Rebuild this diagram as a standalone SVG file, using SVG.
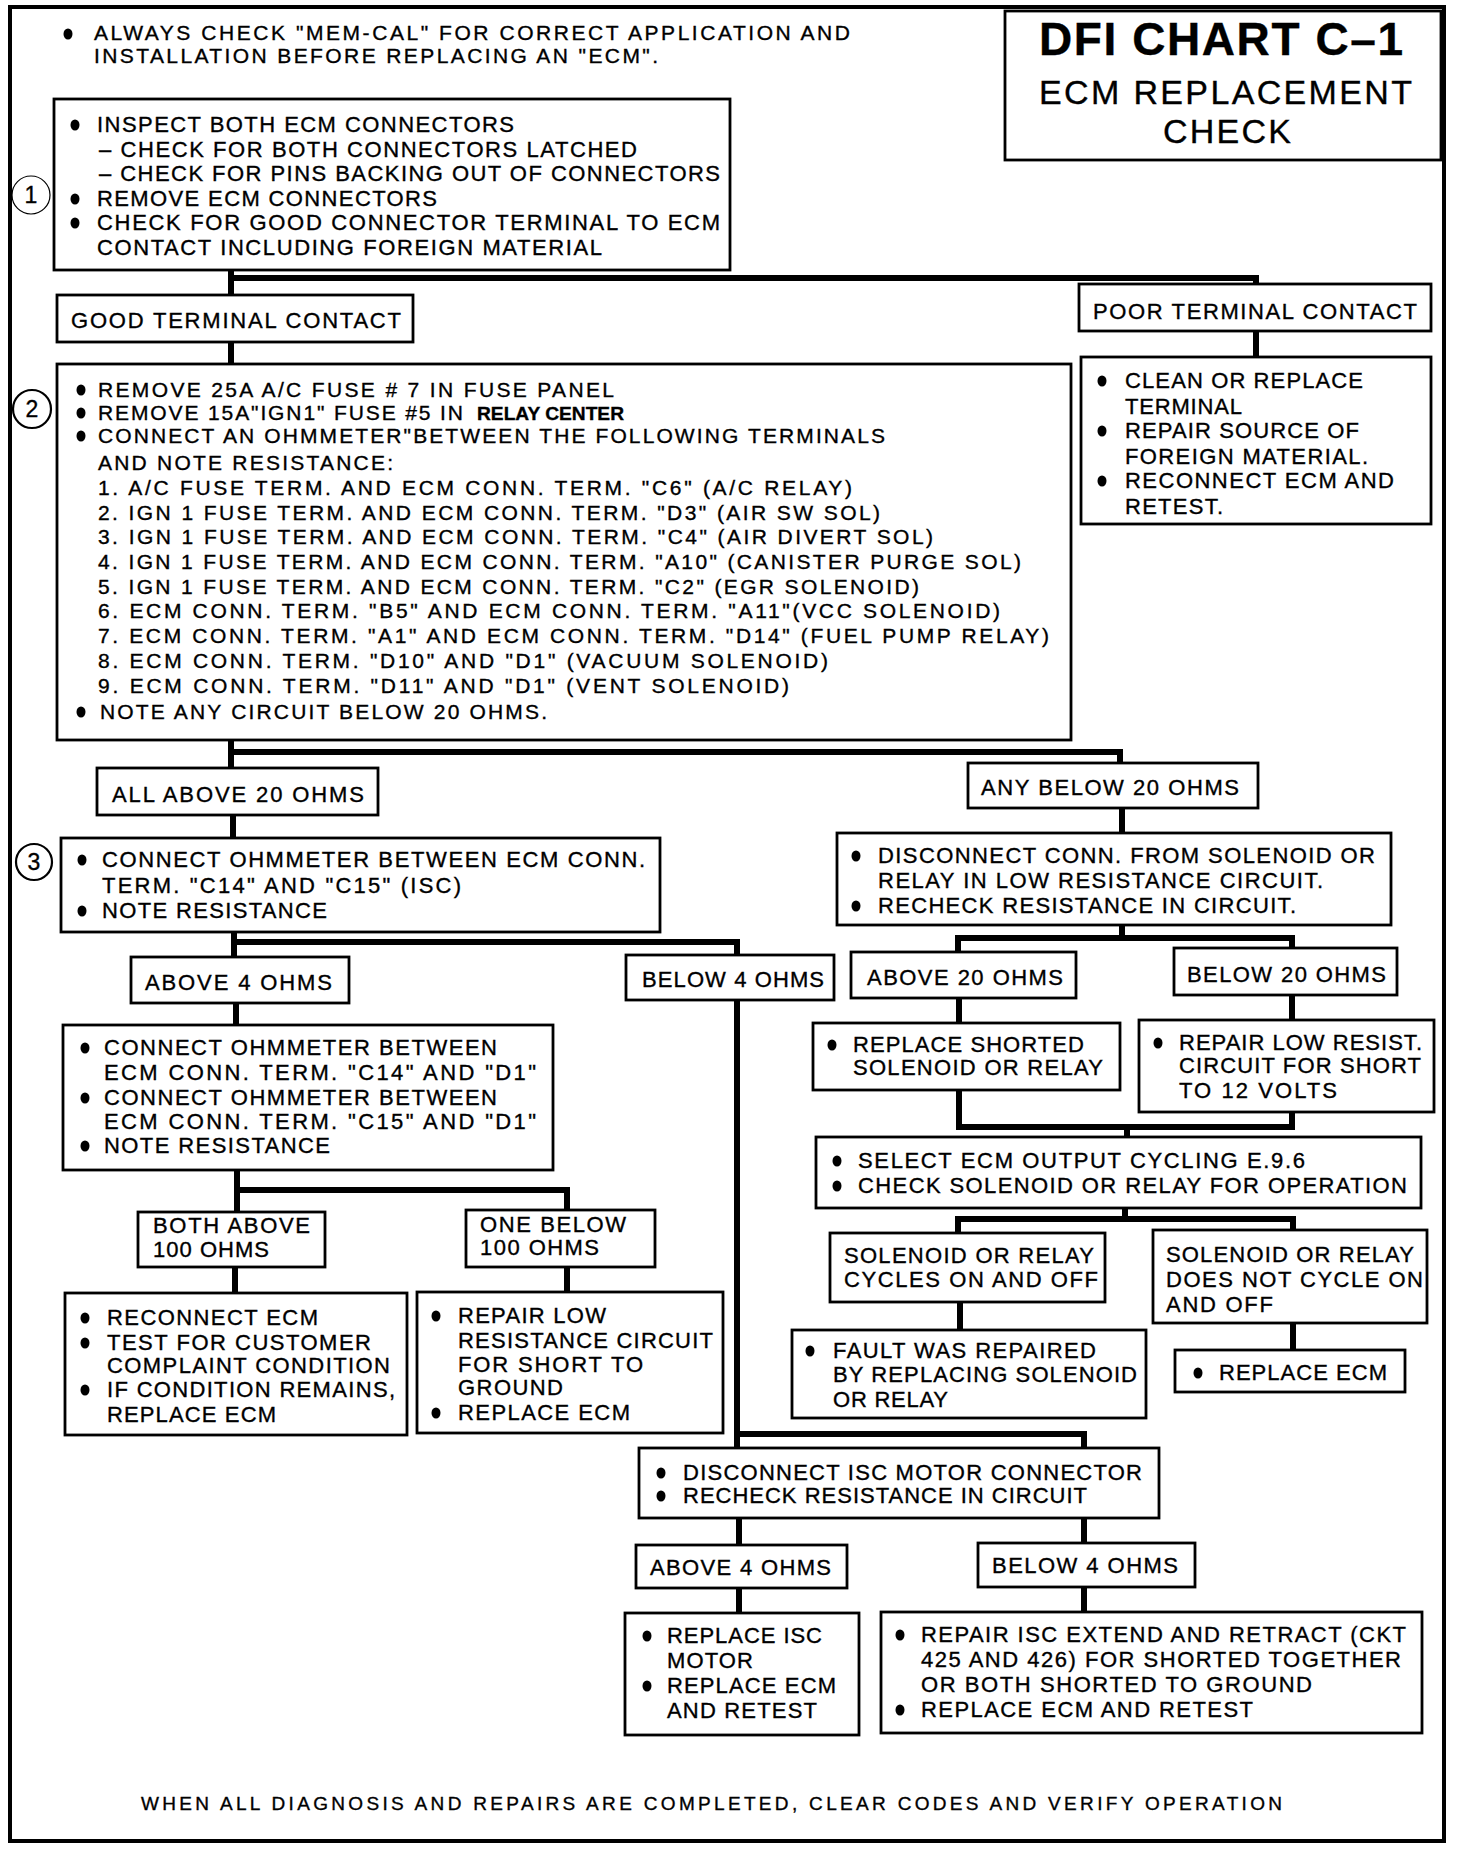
<svg xmlns="http://www.w3.org/2000/svg" xmlns:xlink="http://www.w3.org/1999/xlink" width="1472" height="1850" viewBox="0 0 1472 1850">
<defs>
<style>
text{font-family:"Liberation Sans",Arial,Helvetica,sans-serif;fill:#000;stroke:#000;stroke-width:0.35}
.f22{font-size:22px}.f21{font-size:22px}.f20{font-size:21px}.f19{font-size:21px}.f18{font-size:19px}
.box{fill:#fff;stroke:#000;stroke-width:2.8}
.conn path{fill:none;stroke:#000;stroke-width:6}
.num{font-size:23px;text-anchor:middle}
.circ{fill:#fff;stroke:#000}
</style>
<ellipse id="bu" cx="0" cy="0" rx="4.5" ry="5.5" fill="#000"/>
</defs>
<rect width="1472" height="1850" fill="#fff"/>
<rect id="frame" x="10" y="7" width="1434" height="1834" fill="none" stroke="#000" stroke-width="4"/>

<g id="connectors" class="conn">
<path d="M231 268V297"/>
<path d="M231 278H1256V286"/>
<path d="M1256 329V359"/>
<path d="M231 340V366"/>
<path d="M231 738V770"/>
<path d="M231 752H1120V765"/>
<path d="M233 813V840"/>
<path d="M1122 806V835"/>
<path d="M234 930V959"/>
<path d="M234 942H737V957"/>
<path d="M1122 923V938"/>
<path d="M958 954V938H1292V950"/>
<path d="M236 1001V1027"/>
<path d="M737 998V1450"/>
<path d="M737 1434H1084V1450"/>
<path d="M959 996V1025"/>
<path d="M1292 993V1022"/>
<path d="M959 1088V1127H1292V1110"/>
<path d="M1127 1127V1139"/>
<path d="M1125 1206V1219"/>
<path d="M958 1235V1219H1293V1232"/>
<path d="M960 1300V1332"/>
<path d="M1293 1321V1352"/>
<path d="M237 1168V1214"/>
<path d="M237 1190H567V1212"/>
<path d="M235 1265V1295"/>
<path d="M567 1265V1294"/>
<path d="M739 1516V1547"/>
<path d="M1084 1516V1545"/>
<path d="M739 1586V1615"/>
<path d="M1084 1585V1614"/>
</g>

<g id="title">
<rect class="box" x="1005" y="11" width="436" height="149" stroke-width="3"/>
<text x="1039" y="55" font-size="46" font-weight="bold" textLength="364">DFI CHART C–1</text>
<text x="1039" y="104" font-size="34" textLength="373">ECM REPLACEMENT</text>
<text x="1163" y="143" font-size="34" textLength="128">CHECK</text>
</g>

<g id="note-top">
<use xlink:href="#bu" x="68" y="34"/>
<text class="f19" x="94" y="40" textLength="756">ALWAYS CHECK "MEM-CAL" FOR CORRECT APPLICATION AND</text>
<text class="f19" x="94" y="63" textLength="564">INSTALLATION BEFORE REPLACING AN "ECM".</text>
</g>

<g id="step1-marker">
<circle class="circ" cx="31" cy="195" r="19" stroke-width="1.2"/>
<text class="num" x="31" y="203">1</text>
</g>
<g id="step2-marker">
<circle class="circ" cx="32" cy="409" r="19" stroke-width="2.2"/>
<text class="num" x="32" y="417">2</text>
</g>
<g id="step3-marker">
<circle class="circ" cx="34" cy="862" r="18" stroke-width="2.2"/>
<text class="num" x="34" y="870">3</text>
</g>

<g id="inspect">
<rect class="box" x="54" y="99" width="676" height="171"/>
<use xlink:href="#bu" x="75" y="125"/>
<text class="f22" x="97" y="132" textLength="417">INSPECT BOTH ECM CONNECTORS</text>
<text class="f22" x="99" y="157" textLength="538">– CHECK FOR BOTH CONNECTORS LATCHED</text>
<text class="f22" x="99" y="181" textLength="621">– CHECK FOR PINS BACKING OUT OF CONNECTORS</text>
<use xlink:href="#bu" x="75" y="199"/>
<text class="f22" x="97" y="206" textLength="340">REMOVE ECM CONNECTORS</text>
<use xlink:href="#bu" x="75" y="223"/>
<text class="f22" x="97" y="230" textLength="623">CHECK FOR GOOD CONNECTOR TERMINAL TO ECM</text>
<text class="f22" x="97" y="255" textLength="505">CONTACT INCLUDING FOREIGN MATERIAL</text>
</g>

<g id="good-contact">
<rect class="box" x="57" y="295" width="356" height="47"/>
<text class="f21" x="71" y="328" textLength="330">GOOD TERMINAL CONTACT</text>
</g>

<g id="poor-contact">
<rect class="box" x="1079" y="284" width="352" height="47"/>
<text class="f21" x="1093" y="319" textLength="324">POOR TERMINAL CONTACT</text>
</g>

<g id="clean-replace">
<rect class="box" x="1081" y="357" width="350" height="167"/>
<use xlink:href="#bu" x="1102" y="381"/>
<text class="f21" x="1125" y="388" textLength="238">CLEAN OR REPLACE</text>
<text class="f21" x="1125" y="414" textLength="117">TERMINAL</text>
<use xlink:href="#bu" x="1102" y="431"/>
<text class="f21" x="1125" y="438" textLength="234">REPAIR SOURCE OF</text>
<text class="f21" x="1125" y="464" textLength="243">FOREIGN MATERIAL.</text>
<use xlink:href="#bu" x="1102" y="481"/>
<text class="f21" x="1125" y="488" textLength="269">RECONNECT ECM AND</text>
<text class="f21" x="1125" y="514" textLength="98">RETEST.</text>
</g>

<g id="ohmmeter-terminals">
<rect class="box" x="57" y="364" width="1014" height="376"/>
<use xlink:href="#bu" x="81" y="390"/>
<text class="f20" x="98" y="397" textLength="516">REMOVE 25A A/C FUSE # 7 IN FUSE PANEL</text>
<use xlink:href="#bu" x="81" y="413"/>
<text class="f20" x="98" y="420" textLength="365">REMOVE 15A"IGN1" FUSE #5 IN</text>
<text x="477" y="420" font-size="19" font-weight="bold" textLength="147" lengthAdjust="spacingAndGlyphs">RELAY CENTER</text>
<use xlink:href="#bu" x="81" y="436"/>
<text class="f20" x="98" y="443" textLength="787">CONNECT AN OHMMETER"BETWEEN THE FOLLOWING TERMINALS</text>
<text class="f20" x="98" y="470" textLength="295">AND NOTE RESISTANCE:</text>
<text class="f20" x="98" y="495" textLength="754">1. A/C FUSE TERM. AND ECM CONN. TERM. "C6" (A/C RELAY)</text>
<text class="f20" x="98" y="520" textLength="782">2. IGN 1 FUSE TERM. AND ECM CONN. TERM. "D3" (AIR SW SOL)</text>
<text class="f20" x="98" y="544" textLength="835">3. IGN 1 FUSE TERM. AND ECM CONN. TERM. "C4" (AIR DIVERT SOL)</text>
<text class="f20" x="98" y="569" textLength="923">4. IGN 1 FUSE TERM. AND ECM CONN. TERM. "A10" (CANISTER PURGE SOL)</text>
<text class="f20" x="98" y="594" textLength="821">5. IGN 1 FUSE TERM. AND ECM CONN. TERM. "C2" (EGR SOLENOID)</text>
<text class="f20" x="98" y="618" textLength="902">6. ECM CONN. TERM. "B5" AND ECM CONN. TERM. "A11"(VCC SOLENOID)</text>
<text class="f20" x="98" y="643" textLength="951">7. ECM CONN. TERM. "A1" AND ECM CONN. TERM. "D14" (FUEL PUMP RELAY)</text>
<text class="f20" x="98" y="668" textLength="730">8. ECM CONN. TERM. "D10" AND "D1" (VACUUM SOLENOID)</text>
<text class="f20" x="98" y="693" textLength="691">9. ECM CONN. TERM. "D11" AND "D1" (VENT SOLENOID)</text>
<use xlink:href="#bu" x="81" y="712"/>
<text class="f20" x="100" y="719" textLength="447">NOTE ANY CIRCUIT BELOW 20 OHMS.</text>
</g>

<g id="all-above-20">
<rect class="box" x="97" y="768" width="281" height="47"/>
<text class="f21" x="112" y="802" textLength="252">ALL ABOVE 20 OHMS</text>
</g>

<g id="any-below-20">
<rect class="box" x="968" y="763" width="290" height="45"/>
<text class="f21" x="981" y="795" textLength="258">ANY BELOW 20 OHMS</text>
</g>

<g id="isc-check">
<rect class="box" x="61" y="838" width="599" height="94"/>
<use xlink:href="#bu" x="82" y="860"/>
<text class="f21" x="102" y="867" textLength="543">CONNECT OHMMETER BETWEEN ECM CONN.</text>
<text class="f21" x="102" y="893" textLength="359">TERM. "C14" AND "C15" (ISC)</text>
<use xlink:href="#bu" x="82" y="911"/>
<text class="f21" x="102" y="918" textLength="225">NOTE RESISTANCE</text>
</g>

<g id="disconnect-solenoid">
<rect class="box" x="837" y="833" width="554" height="92"/>
<use xlink:href="#bu" x="856" y="856"/>
<text class="f21" x="878" y="863" textLength="497">DISCONNECT CONN. FROM SOLENOID OR</text>
<text class="f21" x="878" y="888" textLength="445">RELAY IN LOW RESISTANCE CIRCUIT.</text>
<use xlink:href="#bu" x="856" y="906"/>
<text class="f21" x="878" y="913" textLength="418">RECHECK RESISTANCE IN CIRCUIT.</text>
</g>

<g id="above-4">
<rect class="box" x="131" y="957" width="218" height="46"/>
<text class="f21" x="145" y="990" textLength="187">ABOVE 4 OHMS</text>
</g>

<g id="below-4">
<rect class="box" x="626" y="955" width="208" height="45"/>
<text class="f21" x="642" y="987" textLength="182">BELOW 4 OHMS</text>
</g>

<g id="above-20">
<rect class="box" x="851" y="952" width="225" height="46"/>
<text class="f21" x="867" y="985" textLength="196">ABOVE 20 OHMS</text>
</g>

<g id="below-20">
<rect class="box" x="1174" y="948" width="223" height="47"/>
<text class="f21" x="1187" y="982" textLength="199">BELOW 20 OHMS</text>
</g>

<g id="replace-shorted">
<rect class="box" x="813" y="1023" width="307" height="67"/>
<use xlink:href="#bu" x="832" y="1045"/>
<text class="f21" x="853" y="1052" textLength="231">REPLACE SHORTED</text>
<text class="f21" x="853" y="1075" textLength="250">SOLENOID OR RELAY</text>
</g>

<g id="repair-low-resist">
<rect class="box" x="1139" y="1020" width="295" height="92"/>
<use xlink:href="#bu" x="1158" y="1043"/>
<text class="f21" x="1179" y="1050" textLength="243">REPAIR LOW RESIST.</text>
<text class="f21" x="1179" y="1073" textLength="242">CIRCUIT FOR SHORT</text>
<text class="f21" x="1179" y="1098" textLength="158">TO 12 VOLTS</text>
</g>

<g id="ohmmeter-d1">
<rect class="box" x="63" y="1025" width="490" height="145"/>
<use xlink:href="#bu" x="85" y="1048"/>
<text class="f21" x="104" y="1055" textLength="393">CONNECT OHMMETER BETWEEN</text>
<text class="f21" x="104" y="1080" textLength="432">ECM CONN. TERM. "C14" AND "D1"</text>
<use xlink:href="#bu" x="85" y="1098"/>
<text class="f21" x="104" y="1105" textLength="393">CONNECT OHMMETER BETWEEN</text>
<text class="f21" x="104" y="1129" textLength="432">ECM CONN. TERM. "C15" AND "D1"</text>
<use xlink:href="#bu" x="85" y="1146"/>
<text class="f21" x="104" y="1153" textLength="226">NOTE RESISTANCE</text>
</g>

<g id="select-output">
<rect class="box" x="816" y="1137" width="605" height="71"/>
<use xlink:href="#bu" x="837" y="1161"/>
<text class="f21" x="858" y="1168" textLength="447">SELECT ECM OUTPUT CYCLING E.9.6</text>
<use xlink:href="#bu" x="837" y="1186"/>
<text class="f21" x="858" y="1193" textLength="549">CHECK SOLENOID OR RELAY FOR OPERATION</text>
</g>

<g id="both-above-100">
<rect class="box" x="138" y="1212" width="187" height="55"/>
<text class="f21" x="153" y="1233" textLength="157">BOTH ABOVE</text>
<text class="f21" x="153" y="1257" textLength="116">100 OHMS</text>
</g>

<g id="one-below-100">
<rect class="box" x="466" y="1210" width="189" height="57"/>
<text class="f21" x="480" y="1232" textLength="146">ONE BELOW</text>
<text class="f21" x="480" y="1255" textLength="119">100 OHMS</text>
</g>

<g id="cycles">
<rect class="box" x="830" y="1233" width="275" height="69"/>
<text class="f21" x="844" y="1263" textLength="250">SOLENOID OR RELAY</text>
<text class="f21" x="844" y="1287" textLength="254">CYCLES ON AND OFF</text>
</g>

<g id="does-not-cycle">
<rect class="box" x="1153" y="1230" width="274" height="93"/>
<text class="f21" x="1166" y="1262" textLength="248">SOLENOID OR RELAY</text>
<text class="f21" x="1166" y="1287" textLength="257">DOES NOT CYCLE ON</text>
<text class="f21" x="1166" y="1312" textLength="107">AND OFF</text>
</g>

<g id="reconnect-ecm">
<rect class="box" x="65" y="1293" width="342" height="142"/>
<use xlink:href="#bu" x="85" y="1318"/>
<text class="f21" x="107" y="1325" textLength="211">RECONNECT ECM</text>
<use xlink:href="#bu" x="85" y="1343"/>
<text class="f21" x="107" y="1350" textLength="264">TEST FOR CUSTOMER</text>
<text class="f21" x="107" y="1373" textLength="283">COMPLAINT CONDITION</text>
<use xlink:href="#bu" x="85" y="1390"/>
<text class="f21" x="107" y="1397" textLength="288">IF CONDITION REMAINS,</text>
<text class="f21" x="107" y="1422" textLength="169">REPLACE ECM</text>
</g>

<g id="repair-low-ground">
<rect class="box" x="417" y="1292" width="306" height="141"/>
<use xlink:href="#bu" x="436" y="1316"/>
<text class="f21" x="458" y="1323" textLength="148">REPAIR LOW</text>
<text class="f21" x="458" y="1348" textLength="255">RESISTANCE CIRCUIT</text>
<text class="f21" x="458" y="1372" textLength="185">FOR SHORT TO</text>
<text class="f21" x="458" y="1395" textLength="105">GROUND</text>
<use xlink:href="#bu" x="436" y="1413"/>
<text class="f21" x="458" y="1420" textLength="172">REPLACE ECM</text>
</g>

<g id="fault-repaired">
<rect class="box" x="792" y="1330" width="354" height="88"/>
<use xlink:href="#bu" x="810" y="1351"/>
<text class="f21" x="833" y="1358" textLength="263">FAULT WAS REPAIRED</text>
<text class="f21" x="833" y="1382" textLength="304">BY REPLACING SOLENOID</text>
<text class="f21" x="833" y="1407" textLength="115">OR RELAY</text>
</g>

<g id="replace-ecm">
<rect class="box" x="1175" y="1350" width="230" height="42"/>
<use xlink:href="#bu" x="1198" y="1373"/>
<text class="f21" x="1219" y="1380" textLength="168">REPLACE ECM</text>
</g>

<g id="disconnect-isc">
<rect class="box" x="639" y="1448" width="520" height="70"/>
<use xlink:href="#bu" x="661" y="1473"/>
<text class="f21" x="683" y="1480" textLength="459">DISCONNECT ISC MOTOR CONNECTOR</text>
<use xlink:href="#bu" x="661" y="1496"/>
<text class="f21" x="683" y="1503" textLength="404">RECHECK RESISTANCE IN CIRCUIT</text>
</g>

<g id="above-4-isc">
<rect class="box" x="636" y="1545" width="211" height="43"/>
<text class="f21" x="650" y="1575" textLength="181">ABOVE 4 OHMS</text>
</g>

<g id="below-4-isc">
<rect class="box" x="978" y="1543" width="217" height="44"/>
<text class="f21" x="992" y="1573" textLength="186">BELOW 4 OHMS</text>
</g>

<g id="replace-isc">
<rect class="box" x="625" y="1613" width="234" height="122"/>
<use xlink:href="#bu" x="647" y="1636"/>
<text class="f21" x="667" y="1643" textLength="155">REPLACE ISC</text>
<text class="f21" x="667" y="1668" textLength="86">MOTOR</text>
<use xlink:href="#bu" x="647" y="1686"/>
<text class="f21" x="667" y="1693" textLength="169">REPLACE ECM</text>
<text class="f21" x="667" y="1718" textLength="150">AND RETEST</text>
</g>

<g id="repair-isc">
<rect class="box" x="881" y="1612" width="541" height="121"/>
<use xlink:href="#bu" x="900" y="1635"/>
<text class="f21" x="921" y="1642" textLength="485">REPAIR ISC EXTEND AND RETRACT (CKT</text>
<text class="f21" x="921" y="1667" textLength="480">425 AND 426) FOR SHORTED TOGETHER</text>
<text class="f21" x="921" y="1692" textLength="391">OR BOTH SHORTED TO GROUND</text>
<use xlink:href="#bu" x="900" y="1710"/>
<text class="f21" x="921" y="1717" textLength="332">REPLACE ECM AND RETEST</text>
</g>

<g id="footer">
<text class="f18" x="141" y="1810" textLength="1141">WHEN ALL DIAGNOSIS AND REPAIRS ARE COMPLETED, CLEAR CODES AND VERIFY OPERATION</text>
</g>
</svg>
